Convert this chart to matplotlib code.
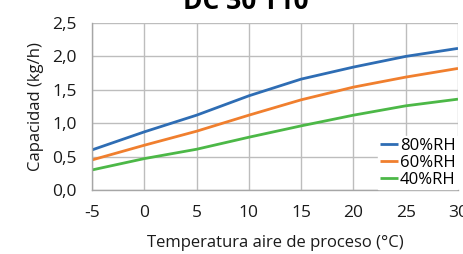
import numpy as np
import matplotlib
matplotlib.use("Agg")
import matplotlib.pyplot as plt
from matplotlib.ticker import FuncFormatter

plt.rcParams['font.family'] = ['Open Sans', 'DejaVu Sans']
plt.rcParams['axes.unicode_minus'] = False

# data
temp = [-5, 0, 5, 10, 15, 20, 25, 30]
rh80 = [0.60, 0.87, 1.12, 1.41, 1.66, 1.84, 2.00, 2.12]
rh60 = [0.45, 0.67, 0.88, 1.12, 1.35, 1.54, 1.69, 1.82]
rh40 = [0.30, 0.47, 0.61, 0.79, 0.96, 1.12, 1.26, 1.36]
labels = ['80%RH', '60%RH', '40%RH']
colors = ['#2e6db4', '#f07f2e', '#4cb847']

fig = plt.figure(figsize=(4.64, 2.54), dpi=100)
ax = fig.add_axes([92 / 464, 1 - 190 / 254, 366 / 464, 167 / 254])

for ys, lab, c in zip([rh80, rh60, rh40], labels, colors):
    ax.plot(temp, ys, color=c, lw=2.0, label=lab, solid_capstyle='butt')

ax.set_xlim(-5, 30)
ax.set_ylim(0, 2.5)
ax.set_xticks(temp)
ax.set_yticks(np.arange(0, 2.51, 0.5))
ax.yaxis.set_major_formatter(FuncFormatter(lambda v, p: f"{v:.1f}".replace('.', ',')))
ax.grid(True, color='#bdbdbd', lw=1.0)
ax.set_axisbelow(True)
for s in ['top', 'right']:
    ax.spines[s].set_visible(False)
for s in ['left', 'bottom']:
    ax.spines[s].set_color('#a6a6a6')
    ax.spines[s].set_linewidth(1.0)
ax.tick_params(length=0, labelsize=12.5, colors='#1a1a1a')
ax.tick_params(axis='x', pad=11)
ax.tick_params(axis='y', pad=11)

ax.set_xlabel('Temperatura aire de proceso (°C)', fontsize=12, labelpad=10, color='#1a1a1a')
ax.set_ylabel('Capacidad (kg/h)', fontsize=12, labelpad=6, color='#1a1a1a')
fig.text(0.53, 1 - 9 / 254, 'DC 30 T10', fontsize=19, fontweight='bold',
         ha='center', va='baseline')

leg = ax.legend(loc='lower right', bbox_to_anchor=(1.0, 0.0), frameon=True, fontsize=12,
                handlelength=1.1, handletextpad=0.1, borderpad=0.1, labelspacing=0.05,
                borderaxespad=0.05, fancybox=False)
leg.get_frame().set_facecolor('white')
leg.get_frame().set_edgecolor('white')
leg.get_frame().set_alpha(1.0)

fig.savefig('out.png', dpi=100)
